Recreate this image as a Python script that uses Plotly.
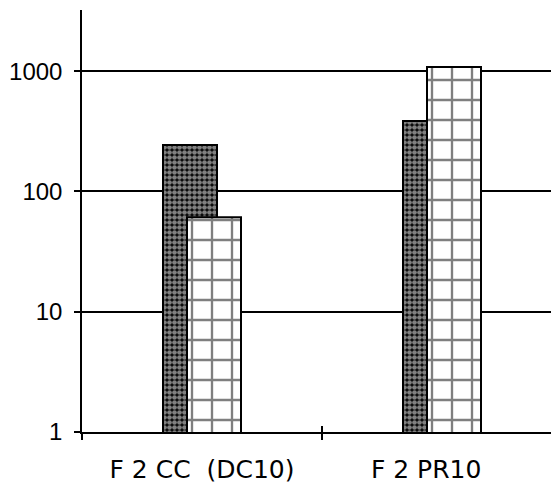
import plotly.graph_objects as go

categories = ["F 2 CC  (DC10)", "F 2 PR10" + "\u00a0" * 4]
dotted_values = [243, 385]
grid_values = [61, 1080]
y_tickvals = [1, 10, 100, 1000]
y_ticktext = ["1", "10", "100", "1000"]

fig = go.Figure()
fig.add_trace(go.Bar(
    x=categories, y=dotted_values, width=0.225, offset=-0.1625,
    marker=dict(color="black", line=dict(color="black", width=2),
                pattern=dict(shape=".", bgcolor="black", fgcolor="white",
                             size=5, solidity=0.7, fillmode="overlay")),
    showlegend=False,
))
fig.add_trace(go.Bar(
    x=categories, y=grid_values, width=0.225, offset=-0.0625,
    marker=dict(color="white", line=dict(color="black", width=2),
                pattern=dict(shape="+", bgcolor="white", fgcolor="black",
                             size=20, solidity=0.22, fillmode="overlay")),
    showlegend=False,
))

fig.update_layout(
    width=559, height=493,
    margin=dict(l=74, r=5, t=2, b=69),
    paper_bgcolor="white", plot_bgcolor="white",
    barmode="overlay",
    xaxis=dict(
        type="category", range=[-0.5, 1.5], automargin=False,
        showline=True, linecolor="black", linewidth=2,
        ticks="outside", ticklen=6, tickwidth=1.5, tickcolor="black",
        tickson="boundaries", showgrid=False,
        tickfont=dict(family="DejaVu Sans", size=25, color="black"),
        ticklabelstandoff=14,
    ),
    xaxis2=dict(
        overlaying="x", anchor="y", range=[-0.5, 1.5], automargin=False,
        tickvals=[-0.5, 0.5, 1.5], ticks="inside", ticklen=6,
        tickwidth=1.5, tickcolor="black", showticklabels=False,
        showgrid=False, showline=False, zeroline=False,
    ),
    yaxis=dict(
        type="log", range=[0, 3.508], automargin=False,
        tickvals=y_tickvals, ticktext=y_ticktext,
        showline=True, linecolor="black", linewidth=1.5,
        ticks="outside", ticklen=6, tickwidth=1.5, tickcolor="black",
        showgrid=True, gridcolor="black", gridwidth=1.5,
        zeroline=False,
        tickfont=dict(family="Liberation Sans", size=24, color="black"),
        ticklabelstandoff=7,
    ),
)
fig.add_trace(go.Scatter(x=[None], y=[None], xaxis="x2", showlegend=False))

fig.write_html("out.html")
